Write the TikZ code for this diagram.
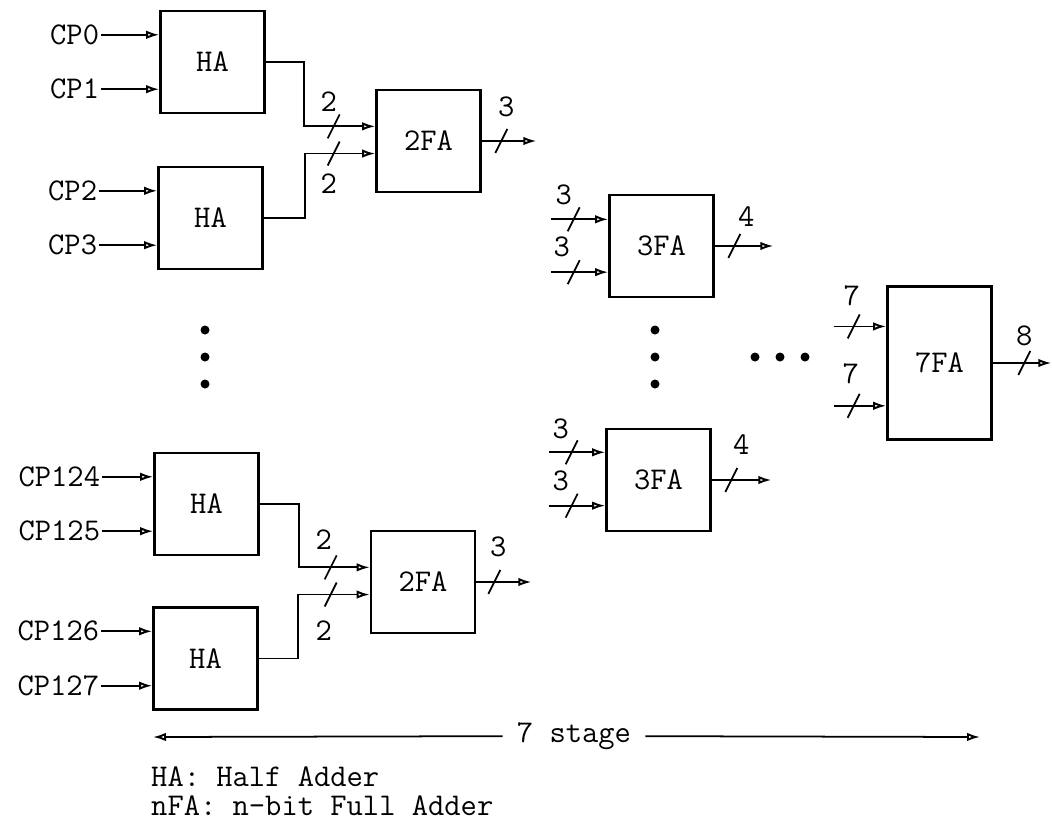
\documentclass[tikz,border=0pt]{standalone}
\usepackage{fontspec}
\usetikzlibrary{arrows.meta,positioning,calc}

\begin{document}
\begin{tikzpicture}[
    x=0.2mm, y=-0.2mm,
    font=\fontsize{18}{21}\selectfont\ttfamily,
    box/.style={draw, line width=1.5pt, minimum width=20.8mm, minimum height=20.4mm, inner sep=0pt},
    tall/.style={box, minimum height=30.6mm},
    arrow/.style={-{Latex[open, length=2.6mm, width=1.7mm, line width=1.1pt]}, line width=1pt},
    lbl/.style={inner sep=1pt},
    dot/.style={circle, fill, inner sep=0pt, minimum size=1.8mm},
    slash/.pic={\draw[line width=1pt] (-6,12) -- (6,-12);}
  ]
    \useasboundingbox (0,0) rectangle (1052,825);

    % adder blocks
    \node[box] (ha1) at (212.5,62) {HA};
    \node[box] (ha2) at (210.5,218) {HA};
    \node[box] (fa2a) at (428.5,141) {2FA};
    \node[box] (fa3a) at (661.5,246) {3FA};
    \node[box] (fa3b) at (658.5,480) {3FA};
    \node[tall] (fa7) at (939.5,363) {7FA};
    \node[box] (ha3) at (206.5,504) {HA};
    \node[box] (ha4) at (205.5,658.5) {HA};
    \node[box] (fa2b) at (423,582) {2FA};

    % CP inputs
    \foreach \b/\i/\j/\d in {ha1/0/1/11.6mm, ha2/2/3/11.6mm, ha3/124/125/10.2mm, ha4/126/127/10.2mm} {
      \coordinate (\b-a) at ($(\b.north west)!0.24!(\b.south west)$);
      \coordinate (\b-b) at ($(\b.north west)!0.76!(\b.south west)$);
      \node[lbl, left=\d of \b-a] (cp\i) {CP\i};
      \node[lbl, left=\d of \b-b] (cp\j) {CP\j};
      \draw[arrow] (cp\i) -- (\b-a);
      \draw[arrow] (cp\j) -- (\b-b);
    }

    % input points of the full adders
    \coordinate (fa2a-a) at ($(fa2a.north west)!0.36!(fa2a.south west)$);
    \coordinate (fa2a-b) at ($(fa2a.north west)!0.62!(fa2a.south west)$);
    \coordinate (fa2b-a) at ($(fa2b.north west)!0.36!(fa2b.south west)$);
    \coordinate (fa2b-b) at ($(fa2b.north west)!0.62!(fa2b.south west)$);
    \coordinate (fa3a-a) at ($(fa3a.north west)!0.245!(fa3a.south west)$);
    \coordinate (fa3a-b) at ($(fa3a.north west)!0.75!(fa3a.south west)$);
    \coordinate (fa3b-a) at ($(fa3b.north west)!0.235!(fa3b.south west)$);
    \coordinate (fa3b-b) at ($(fa3b.north west)!0.745!(fa3b.south west)$);
    \coordinate (fa7-a) at ($(fa7.north west)!0.265!(fa7.south west)$);
    \coordinate (fa7-b) at ($(fa7.north west)!0.775!(fa7.south west)$);

    % HA to 2FA
    \draw[arrow] (ha1.east) -- ++(38,0) |- (fa2a-a);
    \draw[arrow] (ha2.east) -- ++(41,0) |- (fa2a-b);
    \draw[arrow] (ha3.east) -- ++(39,0) |- (fa2b-a);
    \draw[arrow] (ha4.east) -- ++(39,0) |- (fa2b-b);

    % free bus ends
    \coordinate[left=11.4mm of fa3a-a] (fa3a-s1);
    \coordinate[left=11.4mm of fa3a-b] (fa3a-s2);
    \coordinate[left=11.3mm of fa3b-a] (fa3b-s1);
    \coordinate[left=11.3mm of fa3b-b] (fa3b-s2);
    \coordinate[left=10.5mm of fa7-a] (fa7-s1);
    \coordinate[left=10.5mm of fa7-b] (fa7-s2);
    \coordinate[right=10.9mm of fa2a.east] (fa2a-o);
    \coordinate[right=11mm of fa2b.east] (fa2b-o);
    \coordinate[right=11.7mm of fa3a.east] (fa3a-o);
    \coordinate[right=11.9mm of fa3b.east] (fa3b-o);
    \coordinate[right=11.7mm of fa7.east] (fa7-o);

    \draw[arrow] (fa3a-s1) -- (fa3a-a);
    \draw[arrow] (fa3a-s2) -- (fa3a-b);
    \draw[arrow] (fa3b-s1) -- (fa3b-a);
    \draw[arrow] (fa3b-s2) -- (fa3b-b);
    \draw[arrow] (fa7-s1) -- (fa7-a);
    \draw[arrow] (fa7-s2) -- (fa7-b);
    \draw[arrow] (fa2a.east) -- (fa2a-o);
    \draw[arrow] (fa2b.east) -- (fa2b-o);
    \draw[arrow] (fa3a.east) -- (fa3a-o);
    \draw[arrow] (fa3b.east) -- (fa3b-o);
    \draw[arrow] (fa7.east) -- (fa7-o);

    % bus width marks
    \foreach \c/\dx/\lx/\ly/\n [count=\k] in {
        fa2a-a/-41.5/-5/-25/2, fa2a-b/-41.5/-5/30/2, fa2a.east/19.5/5/-34/3,
        fa3a-a/-34.5/-10/-24/3, fa3a-b/-34.5/-12/-25/3, fa3a.east/19.5/12/-29/4,
        fa3b-a/-33.5/-11/-23/3, fa3b-b/-33.5/-11/-25/3, fa3b.east/19.5/10/-35/4,
        fa7-a/-32.5/-2/-31/7, fa7-b/-32.5/-3/-32/7, fa7.east/31.5/0/-27/8,
        fa2b-a/-39/-7/-28/2, fa2b-b/-39/-7/36/2, fa2b.east/18/4/-35/3} {
      \coordinate (s\k) at ($(\c)+(\dx,0)$);
      \pic at (s\k) {slash};
      \node[lbl] (bw\k) at ($(s\k)+(\lx,\ly)$) {\n};
    }

    % ellipsis dots
    \foreach \y [count=\k] in {330,357,384} {
      \node[dot] (vd\k) at (205,\y) {};
      \node[dot] (wd\k) at (655,\y) {};
    }
    \foreach \x [count=\k] in {755,780,805}
      \node[dot] (hd\k) at (\x,357) {};

    % stage arrow and key
    \node[inner xsep=2.8mm] (stage) at (574,736) {7 stage};
    \coordinate (st-l) at (153,737);
    \coordinate (st-r) at (980,737);
    \draw[arrow] (stage) -- (st-l);
    \draw[arrow] (stage) -- (st-r);
    \node[anchor=west] (key1) at (145,777) {HA: Half Adder};
    \node[anchor=west] (key2) at (145,806) {nFA: n-bit Full Adder};
  \end{tikzpicture}
\end{document}
